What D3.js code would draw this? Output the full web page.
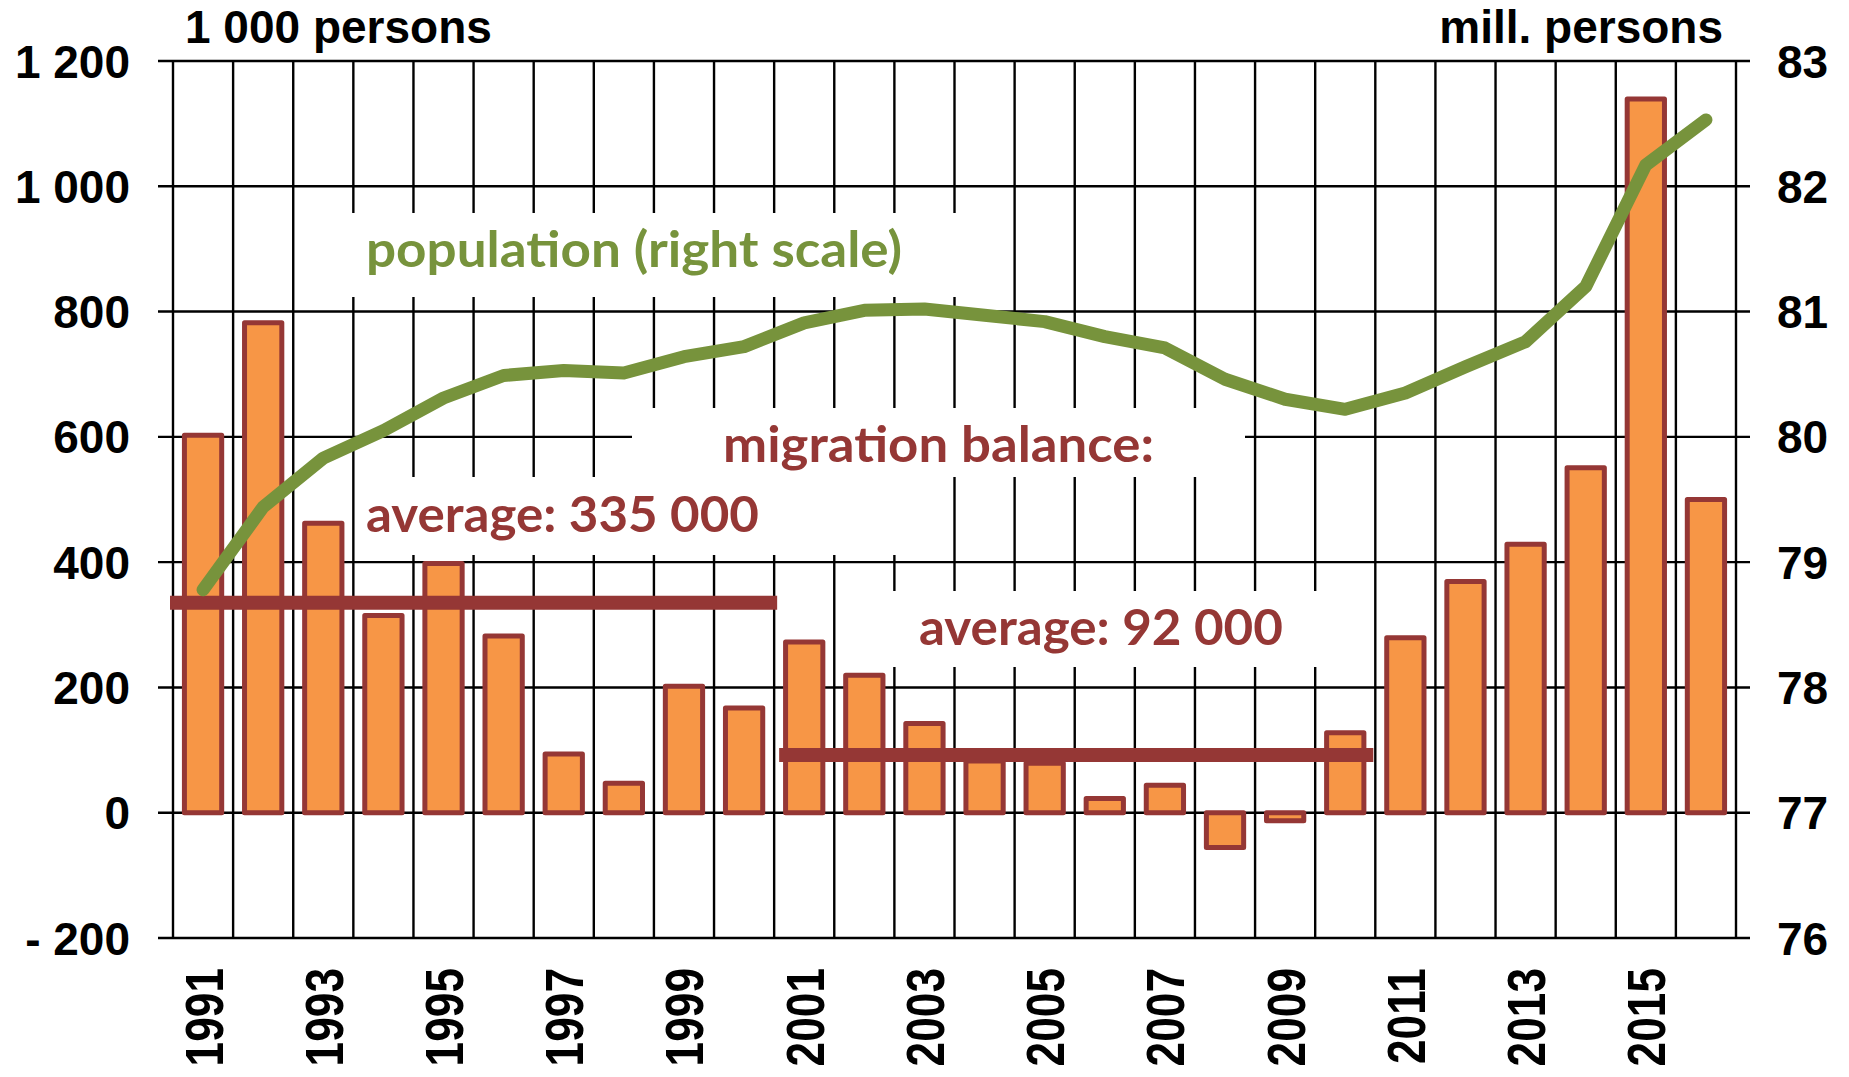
<!DOCTYPE html>
<html>
<head>
<meta charset="utf-8">
<script src="https://cdn.jsdelivr.net/npm/d3@7"></script>
<style>
  html, body { margin: 0; padding: 0; background: #ffffff; }
  svg { display: block; }
</style>
</head>
<body>
<svg id="chart" width="1849" height="1077"></svg>
<script>
// ---- data ----
const years = [1991,1992,1993,1994,1995,1996,1997,1998,1999,2000,2001,2002,2003,2004,2005,2006,2007,2008,2009,2010,2011,2012,2013,2014,2015,2016];
const migration = [602.5,782.1,462.1,314.9,397.9,282.2,93.7,47.1,201.9,167.1,272.7,219.3,142.6,82.5,78.9,22.8,43.9,-55.7,-12.8,127.7,279.2,368.9,428.6,550.5,1139.4,499.9];
const population = [78.78,79.44,79.83,80.05,80.31,80.49,80.53,80.51,80.64,80.72,80.91,81.01,81.02,80.97,80.92,80.80,80.71,80.46,80.30,80.22,80.35,80.56,80.76,81.20,82.17,82.53];
const leftTicks = [-200,0,200,400,600,800,1000,1200];
const leftTickLabels = ["- 200","0","200","400","600","800","1 000","1 200"];
const rightTicks = [76,77,78,79,80,81,82,83];
const rightTickLabels = ["76","77","78","79","80","81","82","83"];
const yearLabels = [1991,1993,1995,1997,1999,2001,2003,2005,2007,2009,2011,2013,2015];
const avgPeriods = [
  {from:1991, to:2000, value:335, label:"average: 335 000"},
  {from:2001, to:2010, value:92, label:"average: 92 000"}
];

// ---- layout ----
const svg = d3.select("#chart");
const L = 173, R = 1736, T = 61, B = 938;
const xg = d3.scaleBand().domain(years).range([L, R]).padding(0);
const yL = d3.scaleLinear().domain([-200, 1200]).range([B, T]);
const yR = d3.scaleLinear().domain([76, 83]).range([B, T]);
const step = xg.step();

const BAR_FILL = "#F79646", BAR_STROKE = "#953735", GREEN = "#77933C", RED = "#953735";
const gridW = 2.4;

// gridlines
const grid = svg.append("g");
grid.selectAll("line.h").data(leftTicks).join("line")
  .attr("x1", L - 15).attr("x2", R + 14)
  .attr("y1", d => yL(d)).attr("y2", d => yL(d))
  .attr("stroke", "#000").attr("stroke-width", gridW);
const vb = years.map(y => xg(y)).concat([R]);
grid.selectAll("line.v").data(vb).join("line")
  .attr("x1", d => d).attr("x2", d => d)
  .attr("y1", T).attr("y2", B)
  .attr("stroke", "#000").attr("stroke-width", gridW);

// white label boxes (cover gridlines)
const boxes = [
  {x1: 345, x2: 980, y1: 213, y2: 297},
  {x1: 632, x2: 1245, y1: 408, y2: 477},
  {x1: 358, x2: 925, y1: 477, y2: 555},
  {x1: 865, x2: 1345, y1: 591, y2: 667}
];
svg.append("g").selectAll("rect").data(boxes).join("rect")
  .attr("x", d => d.x1).attr("y", d => d.y1)
  .attr("width", d => d.x2 - d.x1).attr("height", d => d.y2 - d.y1)
  .attr("fill", "#fff");

// bars
const bw = step * 0.62;
svg.append("g").selectAll("rect").data(years.map((y,i)=>({y, v: migration[i]}))).join("rect")
  .attr("x", d => xg(d.y) + (step - bw) / 2)
  .attr("width", bw)
  .attr("y", d => yL(Math.max(0, d.v)))
  .attr("height", d => Math.abs(yL(d.v) - yL(0)))
  .attr("fill", BAR_FILL).attr("stroke", BAR_STROKE)
  .attr("stroke-width", 5).attr("stroke-linejoin", "round");

// average lines
svg.append("g").selectAll("line").data(avgPeriods).join("line")
  .attr("x1", (d,i) => i === 0 ? xg(d.from) - 3 : xg(d.from) + 5)
  .attr("x2", (d,i) => i === 0 ? xg(d.to) + step + 3 : xg(d.to) + step - 2)
  .attr("y1", d => yL(d.value)).attr("y2", d => yL(d.value))
  .attr("stroke", RED).attr("stroke-width", 14);

// population line
const line = d3.line().x((d,i) => xg(years[i]) + step / 2).y(d => yR(d));
svg.append("path").datum(population)
  .attr("d", line).attr("fill", "none")
  .attr("stroke", GREEN).attr("stroke-width", 13)
  .attr("stroke-linejoin", "round").attr("stroke-linecap", "round");

// axes labels
const axisFont = "'Liberation Sans', Arial, sans-serif";
const gl = svg.append("g").attr("transform", `translate(${L},0)`)
  .call(d3.axisLeft(yL).tickValues(leftTicks).tickSize(0).tickPadding(43)
    .tickFormat((d,i) => leftTickLabels[i]));
const gr = svg.append("g").attr("transform", `translate(${R},0)`)
  .call(d3.axisRight(yR).tickValues(rightTicks).tickSize(0).tickPadding(41)
    .tickFormat((d,i) => rightTickLabels[i]));
[gl, gr].forEach(g => {
  g.select(".domain").remove();
  g.selectAll("text").attr("font-family", axisFont).attr("font-weight", "bold")
    .attr("font-size", 46).attr("fill", "#000").attr("dy", "0.35em");
});

// year labels (rotated, narrow bold)
svg.append("g").selectAll("text").data(yearLabels).join("text")
  .attr("transform", d => `translate(${xg(d) + step / 2},968) rotate(-90) scale(0.82,1)`)
  .attr("text-anchor", "end").attr("dy", "0.36em")
  .attr("font-family", axisFont).attr("font-weight", "bold").attr("font-size", 54)
  .attr("fill", "#000").text(d => d);

// unit labels
svg.append("text").attr("x", 185).attr("y", 43)
  .attr("font-family", axisFont).attr("font-weight", "bold").attr("font-size", 46)
  .text("1 000 persons");
svg.append("text").attr("x", 1723).attr("y", 43).attr("text-anchor", "end")
  .attr("font-family", axisFont).attr("font-weight", "bold").attr("font-size", 46)
  .text("mill. persons");

// annotations
const annFont = "Lato, 'Open Sans', sans-serif";
const anns = [
  {text: "population (right scale)", x: 366, y: 267, w: 536, color: GREEN},
  {text: "migration balance:", x: 723, y: 462, w: 431, color: RED},
  {text: avgPeriods[0].label, x: 366, y: 532, w: 393, color: RED},
  {text: avgPeriods[1].label, x: 919, y: 645, w: 364, color: RED}
];
svg.append("g").selectAll("text").data(anns).join("text")
  .attr("x", d => d.x).attr("y", d => d.y)
  .attr("font-family", annFont).attr("font-weight", "bold").attr("font-size", 50)
  .attr("fill", d => d.color)
  .attr("textLength", d => d.w).attr("lengthAdjust", "spacingAndGlyphs")
  .text(d => d.text);
</script>
</body>
</html>
